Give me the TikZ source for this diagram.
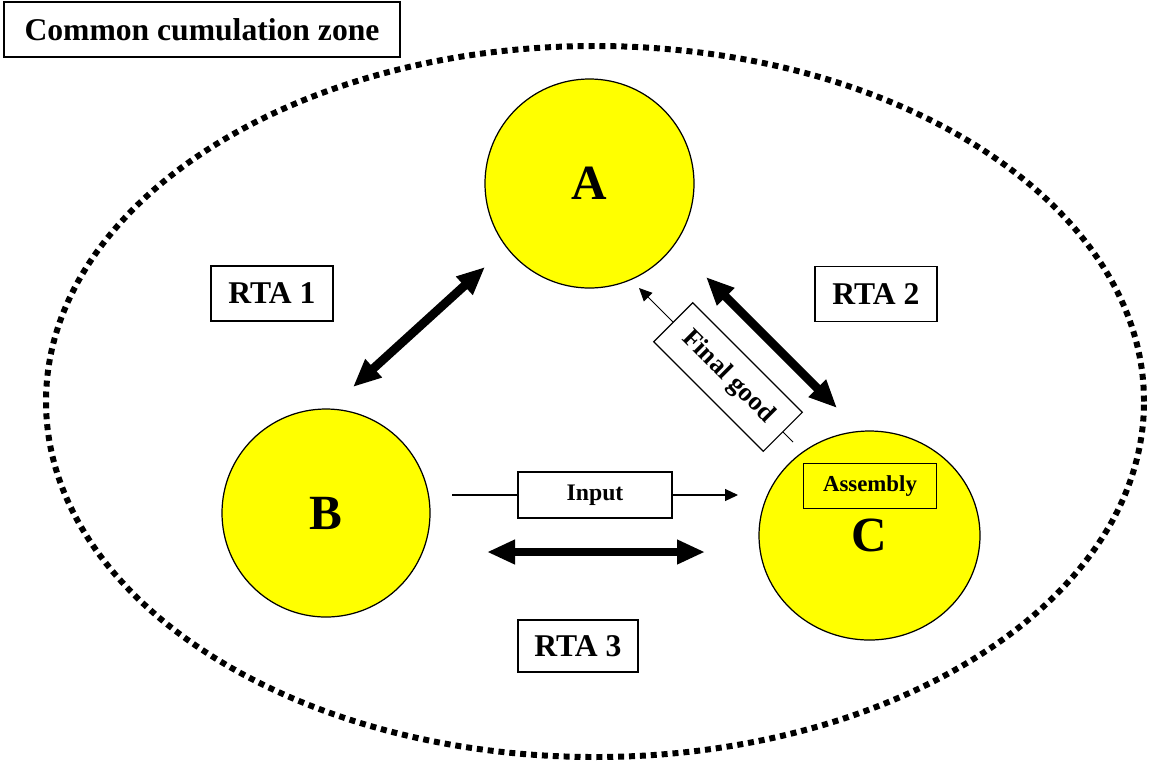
\documentclass[tikz,border=0pt]{standalone}
\usepackage{fontspec}
\setmainfont{Liberation Serif}
\usetikzlibrary{arrows.meta,shapes.geometric}
\definecolor{firmyellow}{RGB}{255,255,0}
\begin{document}
\begin{tikzpicture}[
    lbl/.style = {draw, line width=.7pt, inner sep=0pt, font=\fontsize{18}{20}\selectfont\bfseries},
    firm/.style = {draw, line width=.7pt, fill=firmyellow, inner sep=0pt, font=\fontsize{28}{30}\selectfont\bfseries},
    rta/.style = {line width=5pt, {Triangle[length=.56cm,width=.46cm]}-{Triangle[length=.56cm,width=.46cm]}},
    flow/.style = {line width=.6pt, -{Triangle[length=.26cm,width=.24cm]}}]
          \useasboundingbox (0,0) rectangle (22.98,-15.26);
          \draw[line width=3.4pt, dash pattern=on 3.4pt off 2.8pt] (11.9,-8.03) ellipse (10.98 and 7.11);
          \node[lbl, fill=white, minimum width=7.92cm, minimum height=1.1cm] (title) at (4.04,-0.59) {Common cumulation zone};
          \node[firm, circle, minimum size=4.18cm] (A) at (11.79,-3.67) {A};
          \node[firm, circle, minimum size=4.16cm] (B) at (6.52,-10.26) {B};
          \node[firm, ellipse, minimum width=4.42cm, minimum height=4.18cm] (C) at (17.39,-10.71) {C};
          \node[lbl, minimum width=2.66cm, minimum height=.9cm, font=\fontsize{13}{15}\selectfont\bfseries] (assembly) at (17.4,-9.72) {Assembly};
          \node[lbl, minimum width=2.44cm, minimum height=1.1cm] (rta1) at (5.44,-5.87) {RTA 1};
          \node[lbl, minimum width=2.44cm, minimum height=1.1cm] (rta2) at (17.52,-5.88) {RTA 2};
          \node[lbl, minimum width=2.4cm, minimum height=1.04cm] (rta3) at (11.56,-12.92) {RTA 3};
          \node[lbl, minimum width=3.08cm, minimum height=.92cm, font=\fontsize{13.5}{15}\selectfont\bfseries] (input) at (11.9,-9.9) {Input};
          \node[lbl, rotate=-45, minimum width=3.1cm, minimum height=1.1cm, font=\fontsize{15}{17}\selectfont\bfseries] (final) at (14.56,-7.54) {Final good};
          \coordinate (ba1) at (7.06,-7.74);   \coordinate (ba2) at (9.7,-5.34);
          \coordinate (ac1) at (14.12,-5.54);  \coordinate (ac2) at (16.74,-8.16);
          \coordinate (bc1) at (9.74,-11.04);  \coordinate (bc2) at (14.1,-11.04);
          \coordinate (in1) at (9.04,-9.9);    \coordinate (in2) at (14.76,-9.9);
          \coordinate (fg1) at (15.86,-8.84);  \coordinate (fg2) at (12.78,-5.76);
          \draw[rta] (ba1) -- (ba2);
          \draw[rta] (ac1) -- (ac2);
          \draw[rta] (bc1) -- (bc2);
          \draw[flow] (in1) -- (input) -- (in2);
          \draw[flow] (fg1) -- (final) -- (fg2);
        \end{tikzpicture}
\end{document}
